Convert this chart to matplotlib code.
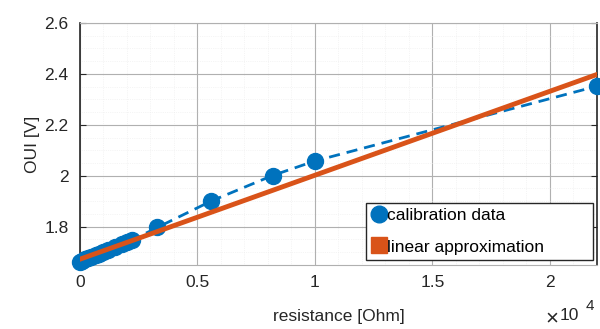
import numpy as np
import matplotlib.pyplot as plt
from matplotlib.lines import Line2D
from matplotlib.ticker import MultipleLocator, FuncFormatter

plt.rcParams['font.family'] = ['Liberation Sans', 'DejaVu Sans']

# calibration measurements (resistance in Ohm, output voltage in V)
resistance = [0, 100, 200, 330, 470, 680, 820, 1000, 1200, 1500, 1800, 2000, 2200,
              3300, 5600, 8200, 10000, 22000]
voltage = [1.662, 1.667, 1.671, 1.676, 1.681, 1.689, 1.694, 1.700, 1.708, 1.720,
           1.732, 1.740, 1.746, 1.797, 1.901, 2.001, 2.058, 2.352]

# linear approximation end points
lin_x = [0, 22000]
lin_y = [1.672, 2.398]

blue = '#0072BD'
orange = '#D95319'
txt = '#262626'
fs = 12.5

fig = plt.figure(figsize=(6, 3.29), dpi=100)
ax = fig.add_axes([0.133, 0.195, 0.862, 0.735])

ax.plot(resistance, voltage, '--', color=blue, lw=2, dashes=(4, 2.5), zorder=3)
ax.plot(resistance, voltage, 'o', color=blue, ms=11.5, zorder=3, clip_on=False)
ax.plot(lin_x, lin_y, '-', color=orange, lw=3.5, zorder=4)

ax.set_xlim(0, 22000)
ax.set_ylim(1.65, 2.6)
ax.xaxis.set_major_locator(MultipleLocator(5000))
ax.xaxis.set_minor_locator(MultipleLocator(1000))
ax.yaxis.set_major_locator(MultipleLocator(0.2))
ax.yaxis.set_minor_locator(MultipleLocator(0.05))
ax.xaxis.set_major_formatter(FuncFormatter(lambda v, p: '%g' % (v / 1e4)))
ax.yaxis.set_major_formatter(FuncFormatter(lambda v, p: '%g' % round(v, 2)))

ax.grid(which='major', color='#b0b0b0', lw=0.8)
ax.grid(which='minor', color='#ececec', lw=0.5, linestyle=':')
ax.set_axisbelow(True)

ax.tick_params(which='both', direction='in', labelsize=fs, colors=txt)
ax.tick_params(which='major', length=4, right=True)
ax.tick_params(which='minor', length=0)
ax.tick_params(axis='x', length=0, pad=7)
ax.tick_params(axis='y', pad=8)

for side in ['left', 'right']:
    ax.spines[side].set_color(txt)
    ax.spines[side].set_linewidth(1.2)
for side in ['top', 'bottom']:
    ax.spines[side].set_color('#b0b0b0')
    ax.spines[side].set_linewidth(0.8)

# x10^4 exponent below the axis, MATLAB style
fig.text(545 / 600, 1 - 319 / 329, '\u00d7', fontsize=16, color=txt, ha='left', va='center')
fig.text(560 / 600, 1 - 316 / 329, '10', fontsize=fs, color=txt, ha='left', va='center')
fig.text(586 / 600, 1 - 306 / 329, '4', fontsize=11, color=txt, ha='left', va='center')

ax.set_xlabel('resistance [Ohm]', fontsize=fs, color=txt, labelpad=14)
ax.set_ylabel('OUI [V]', fontsize=fs, color=txt, labelpad=3)

handles = [Line2D([], [], marker='o', color=blue, ls='none', ms=12),
           Line2D([], [], marker='s', color=orange, ls='none', ms=11)]
ax.legend(handles, ['calibration data', 'linear approximation'], loc='lower left',
          bbox_to_anchor=(0.553, 0.021, 0.439, 0.3), mode='expand', fontsize=fs,
          frameon=True, fancybox=False, edgecolor=txt, framealpha=1,
          handlelength=0.9, handletextpad=0.0, borderpad=0.3, labelspacing=0.95,
          borderaxespad=0)

plt.savefig('out.png', dpi=100)
